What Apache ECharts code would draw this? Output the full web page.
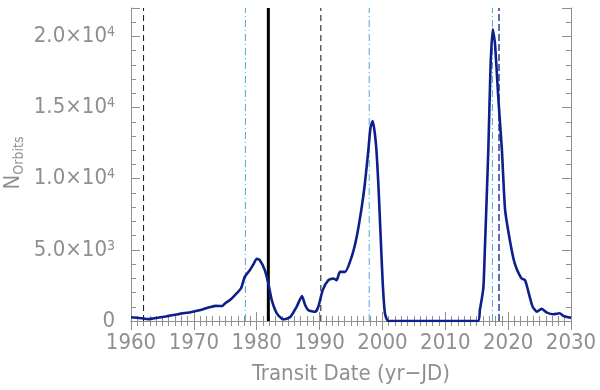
<!DOCTYPE html>
<html>
<head>
<meta charset="utf-8">
<script src="https://cdn.jsdelivr.net/npm/echarts@6/dist/echarts.min.js"></script>
<style>
  html, body { margin: 0; padding: 0; background: #fff; }
  #chart { width: 600px; height: 390px; }
</style>
</head>
<body>
<div id="chart"></div>
<script>
// transit date (yr-JD) and number of orbits
const years = [
  1960.0, 1961.0, 1962.0, 1962.7, 1963.5, 1964.5, 1965.5, 1966.5, 1967.5, 1968.5,
  1969.5, 1970.5, 1971.5, 1972.5, 1973.5, 1974.5, 1975.0, 1975.75, 1976.8, 1977.5,
  1978.1, 1978.9, 1979.5, 1980.0, 1980.5, 1981.3, 1981.85, 1982.4, 1983.2, 1984.2,
  1985.3, 1986.35, 1987.2, 1987.7, 1988.2, 1989.3, 1989.8, 1990.5, 1991.4, 1992.2,
  1992.7, 1993.25, 1994.05, 1995.1, 1995.9, 1996.7, 1997.2, 1997.75, 1998.1, 1998.45,
  1998.97, 1999.35, 1999.7, 2000.05, 2000.4, 2000.95, 2015.2, 2015.5, 2016.05, 2016.3,
  2016.85, 2017.2, 2017.55, 2017.9, 2018.45, 2019.0, 2019.5, 2020.05, 2020.85, 2021.35,
  2022.15, 2022.7, 2023.5, 2023.9, 2024.6, 2025.3, 2026.1, 2027.2, 2028.2, 2028.8,
  2030.0
];
const orbits = [
  260, 230, 170, 130, 180, 250, 320, 400, 480, 560,
  620, 720, 830, 960, 1060, 1050, 1250, 1470, 1940, 2300,
  3100, 3570, 4000, 4380, 4270, 3570, 2640, 1470, 540, 120,
  260, 1000, 1750, 1120, 770, 650, 1000, 2170, 2870, 2990,
  2870, 3450, 3450, 4500, 5900, 7990, 9630, 11960, 13590, 14060,
  12430, 9630, 6130, 2640, 540, 0, 0, 770, 2290, 5080,
  12080, 17900, 20510, 19530, 15570, 12080, 7880, 6240, 4380, 3680,
  2990, 2870, 1590, 1000, 650, 860, 610, 470, 540, 350,
  220
];

// vertical marker lines
const blackDashed = [1962.0, 1990.2];
const cyanDashDot = [1978.2, 1997.9, 2017.5];
const blackSolid = [1981.85];
const blueDashed = [2018.55];

const xMin = 1960, xMax = 2030;
const yMin = 0, yMax = 22000;

const gray = '#8f8f8f';
const font = '"DejaVu Sans Condensed", "DejaVu Sans", sans-serif';

const chart = echarts.init(document.getElementById('chart'), null, { renderer: 'canvas' });

function vline(x, color, width, type, z) {
  return {
    type: 'line',
    data: [[x, yMin], [x, yMax]],
    symbol: 'none',
    silent: true,
    animation: false,
    z: z,
    lineStyle: { color: color, width: width, type: type }
  };
}

function sciLabel(v) {
  if (v === 0) return '{a|0}';
  const e = Math.floor(Math.log10(v));
  const m = (v / Math.pow(10, e)).toFixed(1);
  return '{a|' + m + '×10}{e|' + e + '}';
}

const tickBits = {
  axisLine: { show: true, lineStyle: { color: gray, width: 1 } },
  axisTick: { show: true, inside: true, length: 9, lineStyle: { color: gray } },
  splitLine: { show: false },
  minorSplitLine: { show: false }
};

const series = [];
blackDashed.forEach(x => series.push(vline(x, '#111', 1, [6, 4], 2)));
cyanDashDot.forEach(x => series.push(vline(x, '#4aa8d8', 1, [7, 3, 1, 3], 2)));
blackSolid.forEach(x => series.push(vline(x, '#000', 3, 'solid', 2)));
blueDashed.forEach(x => series.push(vline(x, '#2b3a9c', 1.5, [7, 3], 2)));
series.push({
  type: 'line',
  data: years.map((y, i) => [y, orbits[i]]),
  symbol: 'none',
  smooth: 0.2,
  animation: false,
  z: 5,
  lineStyle: { color: '#0d1f8a', width: 2.6 }
});

chart.setOption({
  backgroundColor: '#fff',
  grid: { left: 131, right: 29, top: 8, bottom: 69 },
  xAxis: [
    Object.assign({
      type: 'value', min: xMin, max: xMax, interval: 10,
      axisLabel: {
        color: gray, fontSize: 22, fontFamily: font, fontWeight: 200, margin: 11,
        formatter: v => String(v)
      },
      name: 'Transit Date (yr\u2212JD)',
      nameLocation: 'middle',
      nameGap: 42,
      nameTextStyle: { color: gray, fontSize: 22, fontFamily: font, fontWeight: 200 }
    }, tickBits, {
      minorTick: { show: true, splitNumber: 10, length: 5, lineStyle: { color: gray } }
    }),
    Object.assign({
      type: 'value', min: xMin, max: xMax, interval: 10, position: 'top',
      axisLabel: { show: false }
    }, tickBits, {
      minorTick: { show: true, splitNumber: 10, length: 5, lineStyle: { color: gray } }
    })
  ],
  yAxis: [
    Object.assign({
      type: 'value', min: yMin, max: yMax, interval: 5000,
      axisLabel: {
        showMaxLabel: false,
        margin: 16,
        formatter: sciLabel,
        rich: {
          a: { color: gray, fontSize: 22, fontFamily: font, fontWeight: 200, verticalAlign: 'bottom' },
          e: { color: gray, fontSize: 14, fontFamily: font, fontWeight: 200, verticalAlign: 'top' }
        }
      }
    }, tickBits, {
      minorTick: { show: true, splitNumber: 5, length: 5, lineStyle: { color: gray } }
    }),
    Object.assign({
      type: 'value', min: yMin, max: yMax, interval: 5000, position: 'right',
      axisLabel: { show: false }
    }, tickBits, {
      minorTick: { show: true, splitNumber: 5, length: 5, lineStyle: { color: gray } }
    })
  ],
  graphic: [{
    type: 'text',
    x: 14,
    y: 163,
    rotation: Math.PI / 2,
    style: {
      text: '{n|N}{s|Orbits}',
      align: 'center',
      verticalAlign: 'middle',
      rich: {
        n: { fill: gray, fontSize: 22, fontFamily: font, fontWeight: 200, verticalAlign: 'top', lineHeight: 24 },
        s: { fill: gray, fontSize: 14, fontFamily: font, fontWeight: 200, verticalAlign: 'bottom', lineHeight: 16 }
      }
    }
  }],
  series: series
});
</script>
</body>
</html>
